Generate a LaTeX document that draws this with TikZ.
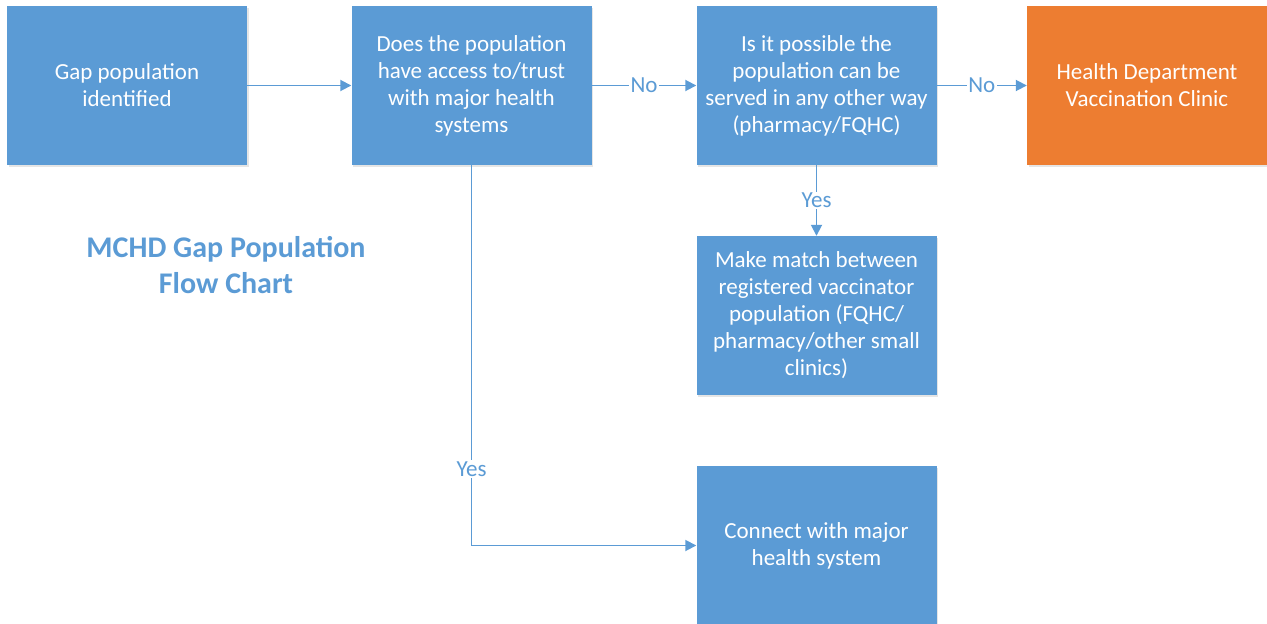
\documentclass[tikz,border=0pt]{standalone}
\usepackage{fontspec}
\setmainfont{Carlito}
\usetikzlibrary{arrows.meta,shadows}
\definecolor{boxblue}{HTML}{5B9BD5}
\definecolor{boxorange}{HTML}{ED7D31}
\tikzset{
  flowbox/.style={rectangle, fill=boxblue, draw=none, minimum width=240pt, minimum height=159pt,
    text=white, align=center, font=\fontsize{23}{27}\selectfont, inner sep=0pt,
    drop shadow={shadow xshift=1.5pt, shadow yshift=-1.5pt, opacity=0.25, fill=black!40}},
  endbox/.style={flowbox, fill=boxorange},
  conn/.style={draw=boxblue, line width=1.8pt, -{Triangle[length=11pt,width=11pt]}},
  lbl/.style={fill=white, text=boxblue, font=\fontsize{23}{27}\selectfont, inner sep=1.5pt},
  titletext/.style={text=boxblue, align=center, font=\bfseries\fontsize{30}{36}\selectfont}
}
\begin{document}
\begin{tikzpicture}[x=1pt,y=-1pt]
\useasboundingbox (0,0) rectangle (1267,624);
\node[flowbox] (gap) at (127,85.5) {Gap population\\identified};
\node[flowbox] (access) at (471.5,85.5) {Does the population\\have access to/trust\\with major health\\systems};
\node[flowbox] (other) at (816.5,85.5) {Is it possible the\\population can be\\served in any other way\\(pharmacy/FQHC)};
\node[endbox] (clinic) at (1147,85.5) {Health Department\\Vaccination Clinic};
\node[flowbox] (match) at (816.5,315.5) {Make match between\\registered vaccinator\\population (FQHC/\\pharmacy/other small\\clinics)};
\node[flowbox] (connect) at (816.5,545.5) {Connect with major\\health system};
\node[titletext] (title) at (226,265) {MCHD Gap Population\\Flow Chart};

\draw[conn] (gap) -- (access);
\draw[conn] (access) -- node[lbl] {No} (other);
\draw[conn] (other) -- node[lbl] {No} (clinic);
\draw[conn] (other) -- node[lbl] {Yes} (match);
\draw[conn] (access.south) |- node[lbl, pos=0.4] {Yes} (connect.west);
\end{tikzpicture}
\end{document}
